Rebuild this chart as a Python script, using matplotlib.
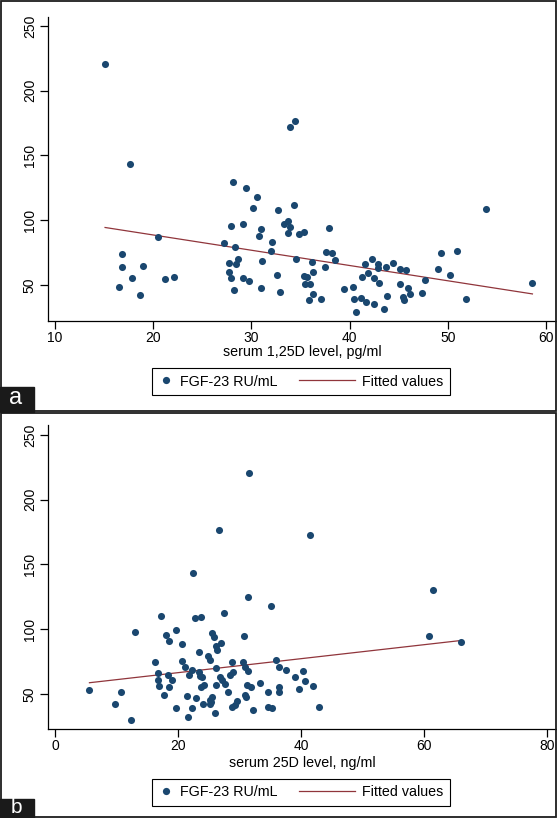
import numpy as np
import matplotlib
matplotlib.use('Agg')
import matplotlib.pyplot as plt
from matplotlib.patches import Rectangle
from matplotlib.lines import Line2D
from matplotlib.legend_handler import HandlerLine2D

plt.rcParams['font.family'] = ['Liberation Sans', 'DejaVu Sans']

# panel a: serum 1,25D (pg/ml) vs FGF-23
vitd125 = [15.1, 17.6, 28.1, 29.4, 30.6, 30.2, 32.7, 27.9, 29.1, 31.0, 30.8, 32.1, 32.0,
           27.2, 28.3, 16.8, 20.5, 27.7, 28.6, 28.4, 31.1, 27.7, 27.9, 29.1, 29.8, 28.2,
           31.0, 32.6, 32.9, 16.8, 19.0, 16.5, 17.8, 18.7, 21.2, 22.1, 34.3, 33.3, 33.7,
           33.9, 33.7, 34.8, 35.3, 37.9, 34.5, 37.6, 38.2, 38.5, 37.5, 36.2, 36.3, 35.3,
           35.7, 35.4, 36.0, 36.3, 35.9, 37.1, 39.4, 40.3, 40.4, 41.1, 41.7, 42.5, 40.6,
           43.5, 43.8, 41.3, 41.9, 41.6, 42.3, 42.9, 42.9, 42.5, 43.0, 43.7, 44.4, 45.1,
           45.7, 45.1, 45.9, 45.4, 45.5, 46.1, 47.4, 47.7, 49.0, 49.3, 50.2, 50.9, 51.8,
           53.9, 58.6, 34.4, 33.9]
fgf_a = [220.5, 143.3, 129.8, 124.6, 118.0, 109.5, 108.0, 95.2, 97.4, 93.3, 87.7, 83.4, 76.2,
         82.3, 79.2, 74.1, 86.7, 67.2, 70.0, 66.4, 68.5, 60.0, 55.1, 55.4, 52.8, 46.4,
         47.4, 57.7, 44.9, 63.8, 64.4, 48.7, 55.1, 42.1, 54.6, 56.4, 112.1, 96.9, 99.2,
         94.4, 89.8, 89.0, 90.8, 94.1, 70.2, 75.1, 74.6, 69.2, 64.1, 67.7, 59.8, 56.7,
         55.9, 50.5, 51.0, 42.8, 38.7, 39.2, 46.7, 48.7, 39.2, 40.2, 36.9, 35.2, 29.2,
         31.3, 41.8, 55.9, 59.5, 65.9, 70.2, 66.2, 62.8, 55.1, 51.3, 63.8, 66.9, 62.5,
         61.3, 51.0, 47.9, 40.8, 38.5, 42.8, 44.1, 53.6, 62.5, 74.4, 57.9, 76.4, 39.5,
         109.0, 51.3, 176.4, 172.3]
fit_a_x = [15.1, 58.6]
fit_a_y = [94.4, 43.1]

# panel b: serum 25D (ng/ml) vs FGF-23
vitd25 = [5.6, 9.8, 10.8, 12.4, 13.0, 16.2, 16.8, 16.7, 16.9, 17.2, 17.8, 18.0, 18.5, 18.4,
          18.5, 19.1, 19.7, 19.7, 20.7, 20.6, 21.2, 21.4, 21.8, 21.7, 22.2, 22.3, 22.5,
          22.9, 22.8, 23.7, 23.4, 23.4, 23.6, 23.9, 23.8, 24.3, 24.1, 24.9, 25.2, 25.5,
          25.8, 26.1, 26.4, 26.1, 26.1, 25.6, 25.2, 25.4, 25.2, 26.0, 26.7, 27.0, 27.4,
          26.8, 27.2, 27.7, 28.2, 28.4, 28.9, 28.8, 28.8, 29.2, 29.6, 30.5, 30.9, 31.4,
          30.8, 31.3, 30.9, 31.1, 31.2, 31.8, 32.2, 31.6, 33.4, 34.6, 34.7, 35.3, 35.2,
          36.0, 36.5, 36.4, 36.4, 37.6, 39.1, 39.7, 40.4, 40.7, 42.0, 42.9, 41.5, 61.5,
          60.8, 66.0]
fgf_b = [53.1, 42.5, 51.5, 29.8, 98.0, 74.9, 66.3, 60.5, 55.9, 110.1, 49.2, 95.9, 91.2, 64.7,
         55.5, 60.6, 99.5, 39.1, 88.5, 75.5, 70.5, 48.3, 64.9, 32.1, 39.5, 68.8, 143.8,
         46.9, 108.4, 109.3, 82.8, 66.8, 63.9, 62.8, 55.1, 57.3, 42.4, 79.0, 76.5, 97.2,
         94.1, 87.0, 83.8, 69.7, 57.3, 47.4, 45.4, 43.8, 42.4, 35.4, 176.9, 89.5, 112.3,
         62.8, 60.6, 58.0, 51.4, 64.5, 66.9, 74.9, 39.9, 41.5, 44.9, 74.9, 70.8, 67.5,
         94.7, 125.1, 49.2, 47.8, 56.8, 55.6, 37.6, 220.8, 58.5, 51.6, 40.2, 39.3, 118.3,
         76.6, 70.9, 55.4, 51.8, 68.2, 62.8, 53.8, 67.7, 60.1, 56.4, 40.0, 172.8, 130.2,
         94.4, 90.0]
fit_b_x = [5.6, 66.0]
fit_b_y = [58.7, 91.3]

navy = '#1a476f'
maroon = '#90353b'
W, H = 557, 818


class LongLine(HandlerLine2D):
    # Stata draws the fitted-line key longer than the marker key
    def get_xdata(self, legend, xdescent, ydescent, width, height, fontsize):
        xd, xm = super().get_xdata(legend, xdescent, ydescent, width, height, fontsize)
        return np.array([xd[0] - 2.9 * fontsize, xd[-1]]), xm


def panel(top, x, y, fx, fy, xlim, ylim, xticks, xlabel, label_y, leg_y):
    ax = fig.add_axes([48 / W, 1 - (top + 304) / H, 508 / W, 304 / H])
    ax.scatter(x, y, s=26, color=navy, linewidths=0, zorder=3)
    ax.plot(fx, fy, color=maroon, lw=0.9, zorder=2)
    ax.set_xlim(xlim)
    ax.set_ylim(ylim)
    ax.set_xticks(xticks)
    ax.set_yticks([50, 100, 150, 200, 250])
    for s in ['top', 'right']:
        ax.spines[s].set_visible(False)
    for s in ['left', 'bottom']:
        ax.spines[s].set_linewidth(0.9)
    ax.tick_params(length=6, width=0.9, labelsize=10)
    ax.tick_params(axis='x', pad=1.5)
    ax.tick_params(axis='y', pad=2, labelrotation=90)
    for t in ax.get_yticklabels():
        t.set_va('center')
    ax.set_xlabel(xlabel, fontsize=10.3)
    ax.xaxis.label.set_va('center')
    ax.xaxis.set_label_coords(0.5, label_y)

    h1 = Line2D([], [], marker='o', ls='none', color=navy, markersize=5.2, markeredgewidth=0)
    h2 = Line2D([], [], color=maroon, lw=0.9)
    leg = ax.legend([h1, h2], ['FGF-23 RU/mL', 'Fitted values'], ncol=2,
                    loc='center', bbox_to_anchor=(301 / W, 1 - leg_y / H),
                    bbox_transform=fig.transFigure, fontsize=10.3,
                    handlelength=1.0, handletextpad=0.5, columnspacing=4.4,
                    borderpad=0.45, fancybox=False, framealpha=1,
                    handler_map={h2: LongLine()})
    leg.get_frame().set_edgecolor('black')
    leg.get_frame().set_linewidth(0.8)
    return ax


fig = plt.figure(figsize=(W / 100, H / 100), dpi=100)
fig.patch.set_facecolor('white')

panel(17, vitd125, fgf_a, fit_a_x, fit_a_y, (9.29, 61.0), (22.2, 256.9),
      [10, 20, 30, 40, 50, 60], 'serum 1,25D level, pg/ml', -0.102, 381.5)
panel(425, vitd25, fgf_b, fit_b_x, fit_b_y, (-1.14, 81.46), (22.97, 257.7),
      [0, 20, 40, 60, 80], 'serum 25D level, ng/ml', -0.112, 792.5)

# panel frames and letter tags
for y0, y1 in [(1, 411), (413, 817)]:
    fig.patches.append(Rectangle((1 / W, 1 - y1 / H), 555 / W, (y1 - y0) / H,
                                 transform=fig.transFigure, fill=False,
                                 ec='#1e1e1e', lw=1.3))
for lab, y0, y1, base, fs in [('a', 387, 412, 404, 17), ('b', 799, 818, 813, 15)]:
    fig.patches.append(Rectangle((0, 1 - y1 / H), 34 / W, (y1 - y0) / H,
                                 transform=fig.transFigure, color='#1a1a1a'))
    fig.text(16 / W, 1 - base / H, lab, color='white', fontsize=fs,
             ha='center', va='baseline')

fig.savefig('out.png', dpi=100)
